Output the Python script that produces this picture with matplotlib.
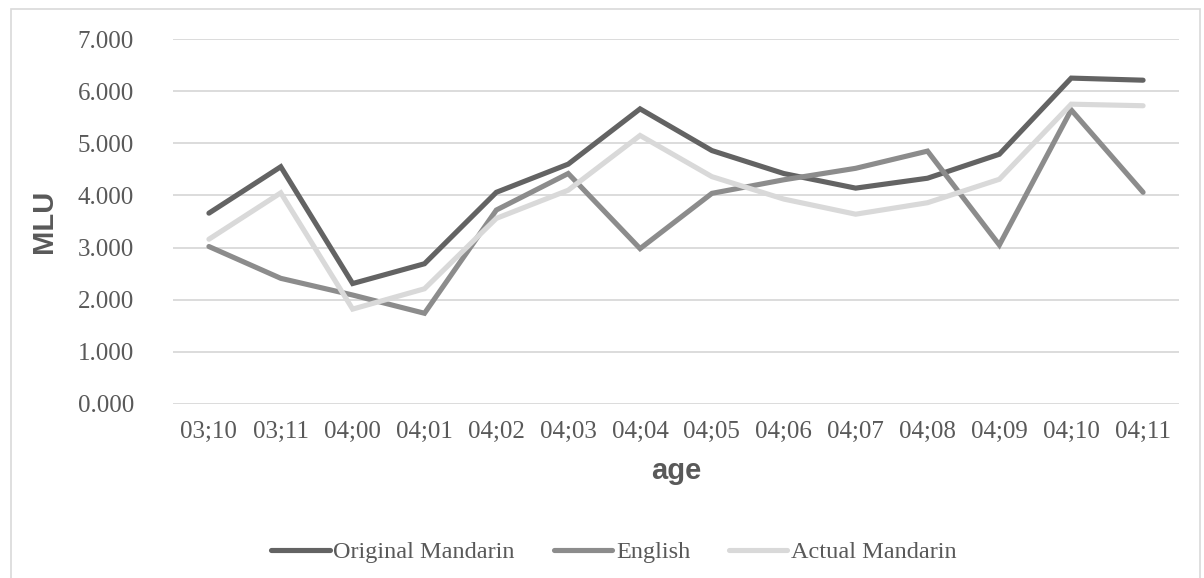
import matplotlib
matplotlib.use("Agg")
import matplotlib.pyplot as plt
from matplotlib.patches import Rectangle

# values
ages = ["03;10", "03;11", "04;00", "04;01", "04;02", "04;03", "04;04",
        "04;05", "04;06", "04;07", "04;08", "04;09", "04;10", "04;11"]
original_mandarin = [3.66, 4.55, 2.31, 2.69, 4.06, 4.60, 5.66,
                     4.86, 4.42, 4.14, 4.33, 4.79, 6.25, 6.21]
english = [3.02, 2.41, 2.09, 1.74, 3.72, 4.42, 2.98,
           4.04, 4.30, 4.52, 4.85, 3.05, 5.64, 4.06]
actual_mandarin = [3.16, 4.05, 1.82, 2.21, 3.56, 4.10, 5.15,
                   4.36, 3.93, 3.64, 3.86, 4.31, 5.75, 5.72]
series_names = ["Original Mandarin", "English", "Actual Mandarin"]
series_colors = ["#636363", "#8c8c8c", "#d9d9d9"]

text_color = "#595959"
serif = "Liberation Serif"
sans = "Liberation Sans"

fig = plt.figure(figsize=(12.04, 5.78), dpi=100)
ax = fig.add_axes([173 / 1204, 1 - 404 / 578, (1179 - 173) / 1204, (404 - 39) / 578])

x = list(range(len(ages)))
for vals, name, col in zip([original_mandarin, english, actual_mandarin], series_names, series_colors):
    ax.plot(x, vals, color=col, lw=3.7, label=name,
            solid_capstyle="round", solid_joinstyle="miter")

ax.set_xlim(-0.5, len(ages) - 0.5)
ax.set_ylim(0, 7)
ax.set_yticks(range(0, 8))
ax.set_yticklabels([f"{v:.3f}" for v in range(0, 8)], fontfamily=serif, fontsize=18, color=text_color)
ax.set_xticks(x)
ax.set_xticklabels(ages, fontfamily=serif, fontsize=18, color=text_color)
ax.tick_params(axis="both", length=0)
ax.tick_params(axis="y", pad=28)
ax.tick_params(axis="x", pad=12)
ax.yaxis.grid(True, color="#d9d9d9", lw=1.3)
ax.set_axisbelow(True)
for s in ax.spines.values():
    s.set_visible(False)

ax.set_ylabel("MLU", fontfamily=sans, fontweight="bold", fontsize=21, color=text_color, labelpad=14)
ax.set_xlabel("age", fontfamily=sans, fontweight="bold", fontsize=21, color=text_color, labelpad=10)

leg = fig.legend(loc="center", bbox_to_anchor=(614 / 1204, 1 - 552 / 578), ncol=3, frameon=False,
                 prop={"family": serif, "size": 17.5}, handlelength=2.4, handletextpad=0.15,
                 columnspacing=1.6)
for t in leg.get_texts():
    t.set_color(text_color)

# outer chart frame
fig.patches.append(Rectangle((11 / 1204, -0.05), (1200 - 11) / 1204, 1.05 - 9 / 578,
                             transform=fig.transFigure, fill=False, edgecolor="#d9d9d9", lw=1.2))

fig.savefig("out.png", dpi=100)
